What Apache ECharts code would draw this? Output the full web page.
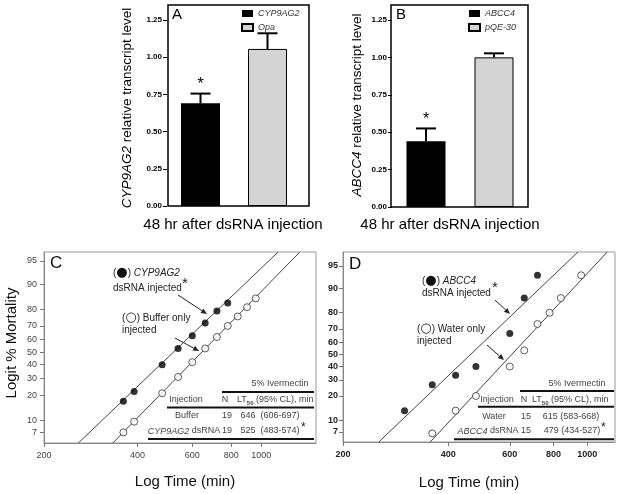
<!DOCTYPE html>
<html><head><meta charset="utf-8">
<script src="https://cdn.jsdelivr.net/npm/echarts@6/dist/echarts.min.js"></script>
<style>html,body{margin:0;padding:0;background:#fff}#c{width:620px;height:494px}</style>
</head><body><div id="c"></div>
<script>
// ---------- Panel A ----------
const catsA = ['CYP9AG2', 'Opa'];
const meanA = [0.69, 1.055];
const errA = [0.065, 0.105];
const sigA = ['*', ''];
// ---------- Panel B ----------
const catsB = ['ABCC4', 'pQE-30'];
const meanB = [0.44, 1.0];
const errB = [0.085, 0.027];
const sigB = ['*', ''];
const barTicks = [0, 0.25, 0.5, 0.75, 1.0, 1.25];
// ---------- Panel C ----------
const timesCdsRNA = [360, 390, 480, 540, 600, 660, 720, 780];
const mortCdsRNA = [17, 22, 40, 53, 63, 72, 79, 83];
const timesCbuffer = [360, 390, 480, 540, 600, 660, 720, 780, 840, 900, 960];
const mortCbuffer = [7, 9.6, 21, 31, 42, 53, 62, 70, 76, 81, 85];
const fitCdsRNA = [[258, 5.07], [1133, 96.2]];
const fitCbuffer = [[333, 5.07], [1331, 96.2]];
// ---------- Panel D ----------
const timesDdsRNA = [300, 360, 420, 480, 600, 660, 720];
const mortDdsRNA = [13.3, 26.7, 33.3, 40, 66.7, 86.7, 93.3];
const timesDwater = [360, 420, 480, 600, 660, 720, 780, 840, 960];
const mortDwater = [6.7, 13.3, 20, 40, 53.3, 73.3, 80, 86.7, 93.3];
const fitDdsRNA = [[253, 5.1], [940, 96.8]];
const fitDwater = [[355, 5.1], [1140, 96.8]];
const timeTicks = [200, 400, 600, 800, 1000];
const mortTicks = [7, 10, 20, 30, 40, 50, 60, 70, 80, 90, 95];

const FF = 'Liberation Sans, Arial, Helvetica, sans-serif';
const L10 = Math.log10;
const logit = p => Math.log(p / (1 - p));
const pts = (ts, ms) => ts.map((t, i) => [L10(t), logit(ms[i] / 100)]);
const fitPts = arr => arr.map(d => [L10(d[0]), logit(d[1] / 100)]);

const chart = echarts.init(document.getElementById('c'), null, {renderer: 'canvas'});

function barXAxis(g, cats) {
  return {gridIndex: g, type: 'category', data: cats, axisLine: {show: false}, axisTick: {show: false}, axisLabel: {show: false}};
}
function barYAxis(g) {
  return {gridIndex: g, type: 'value', min: 0, max: 1.35,
    axisLine: {show: false}, splitLine: {show: false},
    axisTick: {show: true, length: 4, customValues: barTicks, lineStyle: {color: '#000', width: 1}},
    axisLabel: {customValues: barTicks, formatter: v => v.toFixed(2), fontSize: 8, fontWeight: 'bold', color: '#000', margin: 5, fontFamily: FF}};
}
function logXAxis(g, maxT, bold) {
  const cv = timeTicks.map(L10);
  return {gridIndex: g, type: 'value', min: L10(200), max: L10(maxT),
    axisLine: {show: true, onZero: false, lineStyle: {color: '#888'}}, splitLine: {show: false},
    axisTick: {show: true, length: 4, customValues: cv, lineStyle: {color: '#777'}},
    axisLabel: {customValues: cv, formatter: v => String(Math.round(Math.pow(10, v))), fontSize: 9, color: bold ? '#222' : '#444', fontWeight: bold ? 'bold' : 'normal', margin: 8, fontFamily: FF}};
}
function logitYAxis(g, pmin, pmax, bold) {
  const cv = mortTicks.map(p => logit(p / 100));
  return {gridIndex: g, type: 'value', min: logit(pmin), max: logit(pmax),
    axisLine: {show: true, onZero: false, lineStyle: {color: '#888'}}, splitLine: {show: false},
    axisTick: {show: true, length: 4, customValues: cv, lineStyle: {color: '#777'}},
    axisLabel: {customValues: cv, formatter: v => String(Math.round(100 / (1 + Math.exp(-v)))), fontSize: 9, color: bold ? '#222' : '#444', fontWeight: bold ? 'bold' : 'normal', margin: bold ? 5 : 7, fontFamily: FF}};
}
function errSeries(g, means, errs, sig) {
  return {type: 'custom', xAxisIndex: g, yAxisIndex: g, z: 5,
    data: means.map((m, i) => [i, m, m + errs[i]]),
    renderItem(params, api) {
      const i = api.value(0);
      const b = api.coord([i, api.value(1)]);
      const t = api.coord([i, api.value(2)]);
      const ch = [
        {type: 'line', shape: {x1: b[0], y1: b[1], x2: t[0], y2: t[1]}, style: {stroke: '#000', lineWidth: 2}},
        {type: 'line', shape: {x1: t[0] - 10, y1: t[1], x2: t[0] + 10, y2: t[1]}, style: {stroke: '#000', lineWidth: 2}}
      ];
      const s = sig[params.dataIndex];
      if (s) ch.push({type: 'text', style: {text: s, x: t[0], y: t[1] - 9, align: 'center', verticalAlign: 'middle', fontSize: 16, fill: '#000', fontFamily: FF}});
      return {type: 'group', children: ch};
    }};
}
function barPair(g, names, means) {
  return names.map((n, k) => ({type: 'bar', name: n, xAxisIndex: g, yAxisIndex: g, barWidth: 39, barGap: '-100%',
    data: means.map((m, i) => i === k ? m : '-'),
    itemStyle: k === 0 ? {color: '#000'} : {color: '#d4d4d4', borderColor: '#000', borderWidth: 1}}));
}
function scatterS(g, name, data, filled) {
  return {type: 'scatter', name, xAxisIndex: g, yAxisIndex: g, data, symbol: 'circle', symbolSize: 7, z: 4,
    itemStyle: filled ? {color: '#000'} : {color: '#fff', borderColor: '#333', borderWidth: 1}};
}
function fitS(g, name, data) {
  return {type: 'line', name, xAxisIndex: g, yAxisIndex: g, data, symbol: 'none', clip: true, z: 3,
    lineStyle: {color: '#444', width: 1}};
}

// ---------- graphic helpers ----------
function txt(x, y, text, o) {
  o = o || {};
  const st = {text, fontFamily: FF, fontSize: o.fs || 10, fill: o.fill || '#222', align: o.align || 'left',
    verticalAlign: 'middle', fontWeight: o.fw || 'normal', fontStyle: o.fst || 'normal', x: 0, y: 0};
  if (o.rich) st.rich = o.rich;
  return {type: 'text', x, y, rotation: o.rot || 0, z: 50, style: st};
}
function hline(x1, x2, y, lw) {
  return {type: 'line', z: 50, shape: {x1, y1: y, x2, y2: y}, style: {stroke: '#111', lineWidth: lw}};
}
function arrow(x1, y1, x2, y2) {
  const a = Math.atan2(y2 - y1, x2 - x1), L = 6, W = 2.6;
  const bx = x2 - L * Math.cos(a), by = y2 - L * Math.sin(a);
  const px = -Math.sin(a) * W, py = Math.cos(a) * W;
  return [{type: 'line', z: 50, shape: {x1, y1, x2: bx, y2: by}, style: {stroke: '#222', lineWidth: 1}},
          {type: 'polygon', z: 50, shape: {points: [[x2, y2], [bx + px, by + py], [bx - px, by - py]]}, style: {fill: '#222'}}];
}
const it = (fs, fill) => ({fontStyle: 'italic', fontSize: fs, fill: fill, fontFamily: FF});
const dot = {fontSize: 13, fill: '#111', fontFamily: 'DejaVu Sans, Liberation Sans, sans-serif'};
const sub = {fontSize: 6, fontWeight: 'bold', fill: '#444', fontFamily: FF, verticalAlign: 'bottom', lineHeight: 13};
const tc = '#444';

const graphics = [
  {type: 'rect', z: 40, shape: {x: 168, y: 5, width: 141, height: 201}, style: {fill: 'none', stroke: '#000', lineWidth: 1.5}},
  {type: 'rect', z: 40, shape: {x: 391, y: 5, width: 137, height: 202}, style: {fill: 'none', stroke: '#000', lineWidth: 1.5}},
  txt(172, 15, 'A', {fs: 15, fill: '#000'}),
  txt(396, 15, 'B', {fs: 15, fill: '#000'}),
  txt(127, 108, '{i|CYP9AG2} relative transcript level', {fs: 13.5, fill: '#000', align: 'center', rot: Math.PI / 2, rich: {i: it(13.5, '#000')}}),
  txt(357, 105, '{i|ABCC4} relative transcript level', {fs: 13.5, fill: '#000', align: 'center', rot: Math.PI / 2, rich: {i: it(13.5, '#000')}}),
  txt(233, 225, '48 hr after dsRNA injection', {fs: 15, fill: '#000', align: 'center'}),
  txt(450, 225, '48 hr after dsRNA injection', {fs: 15, fill: '#000', align: 'center'}),
  // C / D labels
  txt(50, 263, 'C', {fs: 17, fill: '#111'}),
  txt(349, 264, 'D', {fs: 17, fill: '#111'}),
  txt(12, 343, 'Logit % Mortality', {fs: 15, fill: '#111', align: 'center', rot: Math.PI / 2}),
  txt(185, 482, 'Log Time (min)', {fs: 15, fill: '#111', align: 'center'}),
  txt(469, 483, 'Log Time (min)', {fs: 15, fill: '#111', align: 'center'}),
  // C annotations
  txt(113, 273, '({d|●}) {i|CYP9AG2}', {rich: {i: it(10, '#222'), d: dot}}),
  txt(113, 288, 'dsRNA injected', {}),
  txt(182, 284, '*', {fs: 15}),
  ...arrow(178, 295, 207, 314),
  txt(122, 318, '({d|○}) Buffer only', {rich: {d: dot}}),
  txt(122, 330, 'injected', {}),
  ...arrow(175, 338, 199, 351),
  // D annotations
  txt(422, 281, '({d|●}) {i|ABCC4}', {rich: {i: it(10, '#222'), d: dot}}),
  txt(422, 293, 'dsRNA injected', {}),
  txt(492, 288, '*', {fs: 15}),
  ...arrow(495, 300, 510, 314),
  txt(417, 329, '({d|○}) Water only', {rich: {d: dot}}),
  txt(417, 341, 'injected', {}),
  ...arrow(487, 345, 504, 360),
  // C table
  txt(280, 384, '5% Ivermectin', {fs: 9, fill: tc, align: 'center'}),
  hline(222, 314, 392, 2),
  txt(186, 400, 'Injection', {fs: 9, fill: tc, align: 'center'}),
  txt(225, 400, 'N', {fs: 9, fill: tc, align: 'center'}),
  txt(237, 400, 'LT{s|50} (95% CL), min', {fs: 9, fill: tc, rich: {s: sub}}),
  hline(167, 314, 407.5, 2),
  txt(187, 416, 'Buffer', {fs: 9, fill: tc, align: 'center'}),
  txt(227, 416, '19', {fs: 9, fill: tc, align: 'center'}),
  txt(270, 416, '646  (606-697)', {fs: 9, fill: tc, align: 'center'}),
  txt(184, 431, '{i|CYP9AG2} dsRNA', {fs: 9, fill: tc, align: 'center', rich: {i: it(9, tc)}}),
  txt(227, 431, '19', {fs: 9, fill: tc, align: 'center'}),
  txt(270, 431, '525  (483-574)', {fs: 9, fill: tc, align: 'center'}),
  txt(301, 428, '*', {fs: 12, fill: '#222'}),
  hline(148, 314, 439, 2),
  // D table
  txt(577, 384, '5% Ivermectin', {fs: 9, fill: tc, align: 'center'}),
  hline(520, 614, 391, 2),
  txt(497, 400, 'Injection', {fs: 9, fill: tc, align: 'center'}),
  txt(524, 400, 'N', {fs: 9, fill: tc, align: 'center'}),
  txt(532, 400, 'LT{s|50} (95% CL), min', {fs: 9, fill: tc, rich: {s: sub}}),
  hline(478, 614, 406.7, 2),
  txt(494, 417, 'Water', {fs: 9, fill: tc, align: 'center'}),
  txt(526, 417, '15', {fs: 9, fill: tc, align: 'center'}),
  txt(571, 417, '615 (583-668)', {fs: 9, fill: tc, align: 'center'}),
  txt(488, 431, '{i|ABCC4} dsRNA', {fs: 9, fill: tc, align: 'center', rich: {i: it(9, tc)}}),
  txt(526, 431, '15', {fs: 9, fill: tc, align: 'center'}),
  txt(572, 431, '479 (434-527)', {fs: 9, fill: tc, align: 'center'}),
  txt(601, 428, '*', {fs: 12, fill: '#222'}),
  hline(454, 614, 439.3, 2)
];

const option = {
  animation: false,
  backgroundColor: '#fff',
  textStyle: {fontFamily: FF},
  grid: [
    {left: 167, top: 5, width: 134, height: 201},
    {left: 392, top: 5, width: 136, height: 202},
    {left: 44, top: 252, width: 272, height: 191, show: true, borderColor: '#999', borderWidth: 1},
    {left: 343, top: 252, width: 272, height: 190, show: true, borderColor: '#999', borderWidth: 1}
  ],
  xAxis: [barXAxis(0, catsA), barXAxis(1, catsB), logXAxis(2, 1500, false), logXAxis(3, 1200, true)],
  yAxis: [barYAxis(0), barYAxis(1), logitYAxis(2, 0.0507, 0.962, false), logitYAxis(3, 0.0512, 0.968, true)],
  legend: [
    {data: catsA, orient: 'vertical', left: 241, top: 9, padding: 0, itemWidth: 11, itemHeight: 7, itemGap: 5, icon: 'rect', selectedMode: false,
      textStyle: {fontSize: 9, fontStyle: 'italic', color: '#333', fontFamily: FF}},
    {data: catsB, orient: 'vertical', left: 468, top: 9, padding: 0, itemWidth: 11, itemHeight: 7, itemGap: 5, icon: 'rect', selectedMode: false,
      textStyle: {fontSize: 9, fontStyle: 'italic', color: '#333', fontFamily: FF}}
  ],
  series: [
    ...barPair(0, catsA, meanA),
    errSeries(0, meanA, errA, sigA),
    ...barPair(1, catsB, meanB),
    errSeries(1, meanB, errB, sigB),
    fitS(2, 'fit C dsRNA', fitPts(fitCdsRNA)),
    fitS(2, 'fit C buffer', fitPts(fitCbuffer)),
    scatterS(2, 'C dsRNA', pts(timesCdsRNA, mortCdsRNA), true),
    scatterS(2, 'C buffer', pts(timesCbuffer, mortCbuffer), false),
    fitS(3, 'fit D dsRNA', fitPts(fitDdsRNA)),
    fitS(3, 'fit D water', fitPts(fitDwater)),
    scatterS(3, 'D dsRNA', pts(timesDdsRNA, mortDdsRNA), true),
    scatterS(3, 'D water', pts(timesDwater, mortDwater), false)
  ],
  graphic: graphics
};
chart.setOption(option);
</script>
</body></html>
